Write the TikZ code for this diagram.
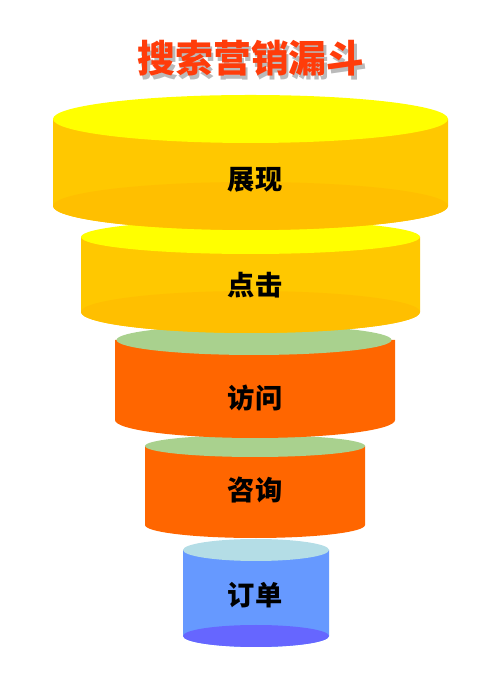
\documentclass[tikz,border=0pt]{standalone}
\usepackage{fontspec}
\newfontfamily\cjk{Noto Sans CJK SC}
\usepackage{xcolor}
\usepackage{tikz}
\usetikzlibrary{positioning, calc}

\definecolor{topYellow}{HTML}{FFFF00}
\definecolor{sideGold}{HTML}{FFC800}
\definecolor{baseGold}{HTML}{FFBF00}
\definecolor{sideOrange}{HTML}{FF6600}
\definecolor{topGreen}{HTML}{A9D18E}
\definecolor{sideBlue}{HTML}{6699FF}
\definecolor{topBlue}{HTML}{B4DDE6}
\definecolor{baseBlue}{HTML}{6666FF}
\definecolor{titleRed}{HTML}{FF3C0A}

\begin{document}
\begin{tikzpicture}[
        stage/.style={font=\cjk\bfseries\fontsize{15.5}{18}\selectfont, text=black},
        heading/.style={font=\cjk\bfseries\fontsize{21.5}{26}\selectfont, text=titleRed},
        shade/.style={font=\cjk\bfseries\fontsize{21.5}{26}\selectfont, text=black!45, opacity=0.6}
    ]
    \useasboundingbox (0,0) rectangle (10,13.92);

    % ==========================================
    % Ring 5: 订单
    % ==========================================
    \fill[sideBlue] (3.66,2.92) -- (3.66,1.2) arc[start angle=180, end angle=360, x radius=1.46, y radius=0.22] -- (6.58,2.92) -- cycle;
    \fill[baseBlue] (5.12,1.2) ellipse[x radius=1.46, y radius=0.22];
    \fill[topBlue] (5.12,2.92) ellipse[x radius=1.46, y radius=0.22];

    % ==========================================
    % Ring 4: 咨询
    % ==========================================
    \fill[sideOrange] (2.9,5.0) -- (2.9,3.42) arc[start angle=180, end angle=360, x radius=2.2, y radius=0.26] -- (7.3,5.0) -- cycle;
    \fill[topGreen] (5.1,5.0) ellipse[x radius=2.2, y radius=0.22];

    % ==========================================
    % Ring 3: 访问
    % ==========================================
    \fill[sideOrange] (2.3,7.12) -- (2.3,5.52) arc[start angle=180, end angle=360, x radius=2.8, y radius=0.36] -- (7.9,7.12) -- cycle;
    \fill[topGreen] (5.08,7.12) ellipse[x radius=2.75, y radius=0.3];

    % ==========================================
    % Ring 2: 点击
    % ==========================================
    \fill[sideGold] (1.62,9.18) -- (1.62,7.68) arc[start angle=180, end angle=360, x radius=3.39, y radius=0.42] -- (8.4,9.18) -- cycle;
    \fill[baseGold] (5.01,7.68) ellipse[x radius=3.39, y radius=0.42];
    \fill[topYellow] (5.01,9.18) ellipse[x radius=3.39, y radius=0.34];

    % ==========================================
    % Ring 1: 展现
    % ==========================================
    \fill[sideGold] (1.06,11.54) -- (1.06,9.8) arc[start angle=180, end angle=360, x radius=3.95, y radius=0.48] -- (8.96,11.54) -- cycle;
    \fill[baseGold] (5.01,9.8) ellipse[x radius=3.95, y radius=0.48];
    \fill[topYellow] (5.01,11.54) ellipse[x radius=3.95, y radius=0.48];

    % ==========================================
    % Labels
    % ==========================================
    \node[stage] (show) at (5.1,10.32) {展现};
    \node[stage] (click) at (5.1,8.22) {点击};
    \node[stage] (visit) at (5.1,5.96) {访问};
    \node[stage] (ask) at (5.1,4.12) {咨询};
    \node[stage] (order) at (5.1,2.02) {订单};

    % Title with drop shadow
    \node[shade] (titleShade) at (5.07,12.68) {搜索营销漏斗};
    \node[heading] (title) at (5.02,12.76) {搜索营销漏斗};

\end{tikzpicture}
\end{document}
